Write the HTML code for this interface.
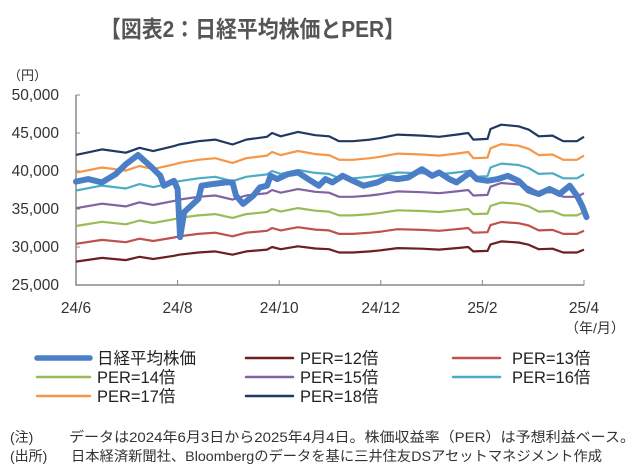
<!DOCTYPE html>
<html><head><meta charset="utf-8"><style>
body{margin:0;background:#fff;width:640px;height:469px;overflow:hidden;font-family:"Liberation Sans","Noto Sans CJK JP",sans-serif}
svg text{font-family:"Liberation Sans","Noto Sans CJK JP",sans-serif}
</style></head><body>
<svg id="chart" width="640" height="469" xmlns="http://www.w3.org/2000/svg">
<text x="100" y="37" textLength="305" lengthAdjust="spacingAndGlyphs" font-size="23" font-weight="bold" fill="#555">【図表2：日経平均株価とPER】</text>
<text x="8" y="80" font-size="13" fill="#333">（円）</text>
<text x="565" y="333" font-size="14" fill="#333">（年/月）</text>
<g id="axes"></g><g id="series"></g><g id="legend"></g>
<text x="10" y="442" font-size="14" fill="#333">(注)</text>
<text x="69" y="442" textLength="566" lengthAdjust="spacingAndGlyphs" font-size="14" fill="#333">データは2024年6月3日から2025年4月4日。株価収益率（PER）は予想利益ベース。</text>
<text x="10" y="461" font-size="14" fill="#333">(出所)</text>
<text x="71" y="461" textLength="531" lengthAdjust="spacingAndGlyphs" font-size="14" fill="#333">日本経済新聞社、Bloombergのデータを基に三井住友DSアセットマネジメント作成</text>
</svg>
<script>
const yTicks=[25000,30000,35000,40000,45000,50000];
const yTickLabels=["25,000","30,000","35,000","40,000","45,000","50,000"];
const xTicks=[0,2,4,6,8,10];
const xTickLabels=["24/6","24/8","24/10","24/12","25/2","25/4"];
const epsMonths=[0,0.51,0.98,1.25,1.52,1.93,2.03,2.41,2.74,3.08,3.35,3.76,3.86,4.03,4.37,4.71,4.98,5.18,5.45,5.79,6.0,6.33,6.81,7.15,7.49,7.72,7.82,8.1,8.16,8.37,8.71,8.91,9.11,9.38,9.59,9.86,10];
const eps=[2340,2380,2356,2392,2368,2404,2416,2440,2452,2416,2452,2472,2500,2476,2508,2484,2476,2440,2440,2452,2464,2488,2481,2472,2488,2500,2452,2457,2529,2561,2549,2525,2476,2481,2440,2440,2472];
const perMultiples=[12,13,14,15,16,17,18];
const perColors=["#6b1f1f","#c0504d","#9bbb59","#8064a2","#4bacc6","#f79646","#1f3864"];
const nkMonths=[0,0.24,0.51,0.78,0.98,1.22,1.46,1.66,1.73,1.93,2.0,2.05,2.13,2.41,2.47,2.68,2.95,3.08,3.15,3.29,3.49,3.62,3.76,3.83,3.96,4.17,4.37,4.57,4.78,4.91,5.05,5.25,5.45,5.66,5.93,6.13,6.33,6.54,6.81,7.01,7.15,7.35,7.49,7.76,7.89,8.1,8.3,8.5,8.71,8.91,9.11,9.32,9.52,9.72,9.86,9.96,10.05];
const nikkei=[38600,38931,38497,39582,40884,42100,40667,39365,38063,38714,37629,31300,34591,36327,38063,38280,38497,38497,36761,35676,36761,37846,38063,39365,38931,39582,39799,38931,38063,38931,38497,39365,38714,38063,38497,39148,38931,39148,40233,39365,39799,38931,38497,39799,38931,38714,38931,39365,38714,37412,36978,37629,36978,38063,36761,35459,33940];
const NS="http://www.w3.org/2000/svg";
const X0=76,X1=584,Y0=285,Y1=95;
const xs=m=>X0+(m-0)/(10-0)*(X1-X0);
const ys=v=>Y0-(v-25000)/(50000-25000)*(Y0-Y1);
function mk(t,a,p){const e=document.createElementNS(NS,t);for(const k in a)e.setAttribute(k,a[k]);p.appendChild(e);return e;}
const axes=document.getElementById('axes'),ser=document.getElementById('series'),leg=document.getElementById('legend');
let ax=mk('path',{d:`M${X0} ${Y1}V${Y0}H${X1}`,stroke:'#888',fill:'none','stroke-width':1.5},axes);


yTicks.forEach((v,i)=>{
 const tk=mk('line',{x1:X0,x2:X0+4,y1:ys(v),y2:ys(v),stroke:'#888'},axes);
 
 
 const t=mk('text',{x:59,y:ys(v)+5,'text-anchor':'end','font-size':15.5,fill:'#333'},axes);t.textContent=yTickLabels[i];
 
 
});
xTicks.forEach((m,i)=>{
 const tk=mk('line',{x1:xs(m),x2:xs(m),y1:Y0,y2:Y0-5,stroke:'#888'},axes);
 
 
 const t=mk('text',{x:xs(m),y:313,'text-anchor':'middle','font-size':15.5,fill:'#333'},axes);t.textContent=xTickLabels[i];
 
 
});
perMultiples.forEach((p,i)=>{
 const d=eps.map((e,j)=>(j?'L':'M')+xs(epsMonths[j]).toFixed(1)+' '+ys(e*p).toFixed(1)).join('');
 const l=mk('path',{d,stroke:perColors[i],fill:'none','stroke-width':2.2,'stroke-linejoin':'round'},ser);
 
 
});
const nd=nikkei.map((v,j)=>(j?'L':'M')+xs(nkMonths[j]).toFixed(1)+' '+ys(v).toFixed(1)).join('');
const nl=mk('path',{d:nd,stroke:'#4a7ec6',fill:'none','stroke-width':6,'stroke-linejoin':'round','stroke-linecap':'round'},ser);


const legNames=["日経平均株価"].concat(perMultiples.map(p=>"PER="+p+"倍"));
const legColors=["#4a7ec6"].concat(perColors);
legNames.forEach((n,i)=>{
 const c=i%3,r=Math.floor(i/3),lx=[37,246,453][c],ly=358+r*19;
 const s=mk('line',{x1:lx,x2:lx+(c===0?53:47),y1:ly,y2:ly,stroke:legColors[i],'stroke-width':i?2.5:5.5,'stroke-linecap':'round'},leg);
 
 
 const t=mk('text',{x:[97,300,512][c],y:ly+6,'font-size':16.5,fill:'#222'},leg);t.textContent=n;
 
 
});
</script>
</body></html>
